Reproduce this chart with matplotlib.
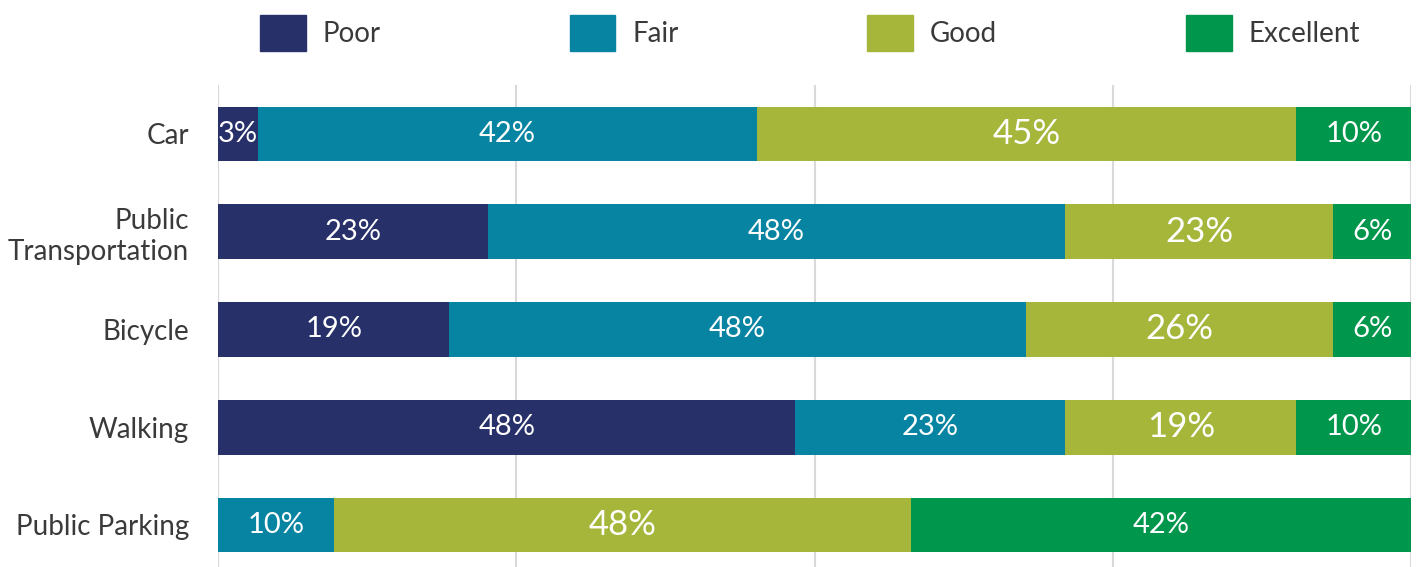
import numpy as np
import matplotlib.pyplot as plt
from matplotlib.patches import Patch

plt.rcParams['font.family'] = ['Lato', 'DejaVu Sans']

categories = ['Car', 'Public\nTransportation', 'Bicycle', 'Walking', 'Public Parking']
ratings = ['Poor', 'Fair', 'Good', 'Excellent']
poor = [3.35, 22.6, 19.4, 48.4, 0.0]
fair = [41.85, 48.4, 48.3, 22.6, 9.7]
good = [45.2, 22.5, 25.8, 19.4, 48.4]
excellent = [9.6, 6.5, 6.5, 9.6, 41.9]
labels = [['3%', '42%', '45%', '10%'],
          ['23%', '48%', '23%', '6%'],
          ['19%', '48%', '26%', '6%'],
          ['48%', '23%', '19%', '10%'],
          ['', '10%', '48%', '42%']]
colors = ['#283069', '#0884a3', '#a5b63b', '#00964b']
label_size = [21, 21, 25, 21]

fig = plt.figure(figsize=(14.19, 5.67), dpi=100)
ax = fig.add_axes([218/1419, 0, (1411-218)/1419, 1-85/567])

y = np.arange(len(categories))
left = np.zeros(len(categories))
series = [poor, fair, good, excellent]
for j, vals in enumerate(series):
    vals = np.array(vals)
    ax.barh(y, vals, left=left, height=0.56, color=colors[j], label=ratings[j], zorder=2)
    for i in range(len(categories)):
        if vals[i] > 0 and labels[i][j]:
            ax.text(left[i] + vals[i]/2, y[i], labels[i][j], ha='center', va='center',
                    color='white', fontsize=label_size[j], zorder=3)
    left += vals

ax.set_xlim(0, 100)
ax.set_ylim(4.43, -0.5)
ax.set_xticks([0, 25, 50, 75, 100])
ax.xaxis.grid(True, color='#d9d9d9', linewidth=1.5, zorder=0)
ax.set_xticklabels([])
ax.tick_params(axis='x', length=0)
ax.tick_params(axis='y', length=0, pad=21, labelsize=20, labelcolor='#3a3a3a')
ax.set_yticks(y)
ax.set_yticklabels(categories, linespacing=1.25)
for s in ax.spines.values():
    s.set_visible(False)

handles = [Patch(color=c) for c in colors]
fig.legend(handles, ratings, loc='upper left', bbox_to_anchor=(235/1419, 1.018), ncol=4,
           frameon=False, fontsize=20, handlelength=1.65, handleheight=1.65,
           columnspacing=6.8, handletextpad=0.6, labelcolor='#3a3a3a')

fig.savefig('out.png', dpi=100)
